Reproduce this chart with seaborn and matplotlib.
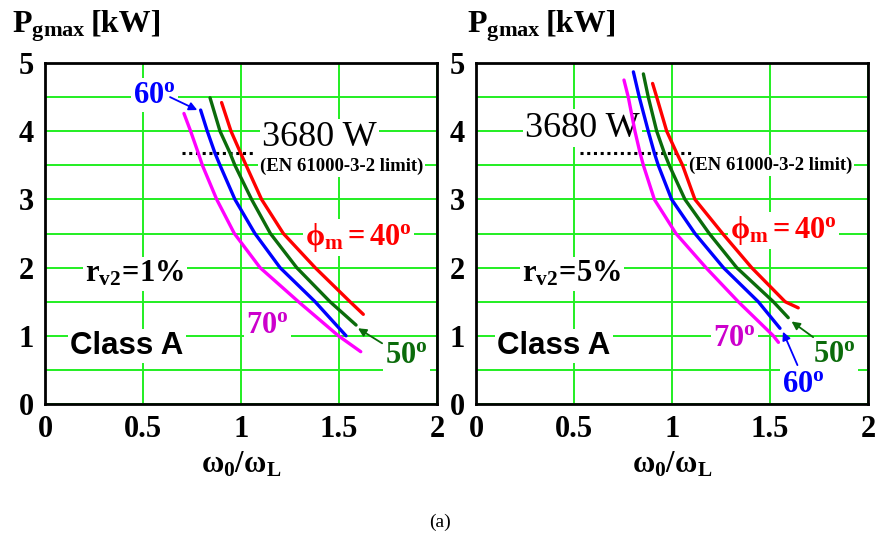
import numpy as np
import pandas as pd
import matplotlib
matplotlib.use("Agg")
import matplotlib.pyplot as plt
import seaborn as sns

# ---------------- data ----------------
phi_levels = ["40", "50", "60", "70"]

# left panel: r_v2 = 1 %
l40_x = [0.901, 0.949, 0.998, 1.026, 1.105, 1.216, 1.378, 1.556, 1.624]
l40_y = [4.42, 4.00, 3.68, 3.50, 3.00, 2.50, 2.00, 1.50, 1.315]
l50_x = [0.842, 0.893, 0.944, 0.969, 1.054, 1.150, 1.284, 1.454, 1.587]
l50_y = [4.49, 4.00, 3.68, 3.50, 3.00, 2.50, 2.00, 1.50, 1.158]
l60_x = [0.794, 0.828, 0.867, 0.893, 0.969, 1.071, 1.199, 1.378, 1.536]
l60_y = [4.31, 4.00, 3.68, 3.50, 3.00, 2.50, 2.00, 1.50, 1.00]
l70_x = [0.709, 0.743, 0.782, 0.803, 0.876, 0.966, 1.097, 1.293, 1.497, 1.611]
l70_y = [4.26, 4.00, 3.68, 3.50, 3.00, 2.50, 2.00, 1.50, 1.00, 0.767]

# right panel: r_v2 = 5 %
r40_x = [0.901, 0.922, 0.973, 1.024, 1.054, 1.117, 1.258, 1.406, 1.577, 1.644]
r40_y = [4.70, 4.50, 4.00, 3.68, 3.50, 3.00, 2.50, 2.00, 1.50, 1.41]
r50_x = [0.854, 0.879, 0.922, 0.961, 0.986, 1.066, 1.190, 1.330, 1.517, 1.593]
r50_y = [4.84, 4.50, 4.00, 3.68, 3.50, 3.00, 2.50, 2.00, 1.50, 1.266]
r60_x = [0.803, 0.833, 0.879, 0.910, 0.930, 0.998, 1.117, 1.262, 1.440, 1.551]
r60_y = [4.87, 4.50, 4.00, 3.68, 3.50, 3.00, 2.50, 2.00, 1.50, 1.11]
r70_x = [0.755, 0.777, 0.811, 0.837, 0.854, 0.910, 1.020, 1.173, 1.338, 1.517, 1.543]
r70_y = [4.75, 4.50, 4.00, 3.68, 3.50, 3.00, 2.50, 2.00, 1.50, 1.00, 0.904]

limit_kw = 3.68
x_ticks = [0, 0.5, 1, 1.5, 2]
x_tick_labels = ["0", "0.5", "1", "1.5", "2"]
y_ticks = [0, 1, 2, 3, 4, 5]
panel_labels = ["1%", "5%"]

# ---------------- style ----------------
sns.set_style("white")
plt.rcParams["font.family"] = ["Liberation Serif", "DejaVu Serif"]
plt.rcParams["mathtext.fontset"] = "custom"
plt.rcParams["mathtext.rm"] = "Liberation Serif"
plt.rcParams["mathtext.it"] = "Liberation Serif:italic"
plt.rcParams["mathtext.bf"] = "Liberation Serif:bold"
for key in ("text.color", "axes.labelcolor", "xtick.color", "ytick.color"):
    plt.rcParams[key] = "black"

palette = {"40": "#ff0000", "50": "#0b6b0b", "60": "#0000ff", "70": "#ff00ff"}
GRID = "#22ee22"


def make_df(sets):
    frames = []
    for phi, (xs, ys) in zip(phi_levels, sets):
        frames.append(pd.DataFrame({"x": xs, "y": ys, "phi": phi}))
    return pd.concat(frames, ignore_index=True)


df_left = make_df([(l40_x, l40_y), (l50_x, l50_y), (l60_x, l60_y), (l70_x, l70_y)])
df_right = make_df([(r40_x, r40_y), (r50_x, r50_y), (r60_x, r60_y), (r70_x, r70_y)])

W, H = 878, 536
fig = plt.figure(figsize=(W / 100, H / 100), dpi=100)
ax_l = fig.add_axes([45 / W, (H - 404) / H, 392 / W, 341 / H])
ax_r = fig.add_axes([476 / W, (H - 404) / H, 392 / W, 341 / H])

wb = dict(facecolor="white", edgecolor="none", pad=1.5)


def setup(ax, df):
    ax.set_xlim(0, 2)
    ax.set_ylim(0, 5)
    ax.set_xticks(x_ticks)
    ax.set_xticklabels(x_tick_labels)
    ax.set_yticks(y_ticks)
    ax.set_yticks(np.arange(0.5, 5, 1.0), minor=True)
    ax.grid(True, which="both", color=GRID, lw=1.4, zorder=0)
    ax.set_axisbelow(True)
    ax.tick_params(which="both", length=0, colors="black")
    ax.tick_params(axis="x", labelsize=22, pad=8)
    ax.tick_params(axis="y", labelsize=22, pad=8)
    for lab in ax.get_xticklabels() + ax.get_yticklabels():
        lab.set_fontweight("bold")
    for s in ax.spines.values():
        s.set_color("black")
        s.set_linewidth(2.0)
        s.set_zorder(8)
    sns.lineplot(data=df, x="x", y="y", hue="phi", palette=palette,
                 hue_order=phi_levels, sort=False, estimator=None,
                 lw=2.4, legend=False, ax=ax, zorder=7)
    ax.set_xlabel("")
    ax.set_ylabel("")


setup(ax_l, df_left)
setup(ax_r, df_right)

# x labels
for ax in (ax_l, ax_r):
    ax.text(1.0, -1.01, r"$\mathbf{\omega_0/\omega_L}$", transform=ax.transData,
            ha="center", va="baseline", fontsize=22, clip_on=False, color="black")

# y labels (top)
for x0 in (12, 467):
    fig.text(x0 / W, 1 - 32 / H, r"$\mathbf{P_{gmax}}$", fontsize=23,
             ha="left", va="baseline", color="black")
    fig.text((x0 + 79) / W, 1 - 32 / H, "[kW]", fontsize=23, fontweight="bold",
             ha="left", va="baseline", color="black")

fig.text(440 / W, 1 - 527 / H, "(a)", fontsize=14, ha="center", va="baseline",
         color="black")

deg = lambda n: r"$\mathbf{" + n + r"^{o}}$"
arrow = lambda c: dict(arrowstyle="-|>", color=c, lw=1.3, mutation_scale=12,
                       shrinkA=0, shrinkB=0)

# ---------------- left annotations ----------------
ax = ax_l
ax.plot([0.70, 1.06], [limit_kw, limit_kw], color="black", lw=2.2,
        ls=(0, (1, 1.2)), zorder=4)
ax.text(1.107, 3.78, "3680 W", fontsize=26, ha="left", va="baseline", bbox=wb, zorder=6)
ax.text(1.097, 3.42, "(EN 61000-3-2 limit)", fontsize=13.5, fontweight="bold",
        ha="left", va="baseline", bbox=wb, zorder=6)
ax.text(1.327, 2.33, r"$\mathbf{\phi_m = 40^{o}}$", color=palette["40"], fontsize=22,
        ha="left", va="baseline", bbox=wb, zorder=6)
ax.text(0.204, 1.79, r"$\mathbf{r_{v2}\!=\!" + panel_labels[0].replace("%", r"\%") + "}$",
        fontsize=22, ha="left", va="baseline", bbox=wb, zorder=6)
ax.text(0.128, 0.73, "Class A", fontsize=22.5, fontweight="bold",
        family=["Liberation Sans"], ha="left", va="baseline", bbox=wb, zorder=6)
ax.text(1.026, 1.04, deg("70"), color="#cc00cc", fontsize=22,
        ha="left", va="baseline", bbox=wb, zorder=6)
ax.text(1.735, 0.60, deg("50"), color=palette["50"], fontsize=22,
        ha="left", va="baseline", bbox=wb, zorder=6)
ax.annotate("", xy=(1.597, 1.11), xytext=(1.72, 0.89),
            arrowprops=arrow(palette["50"]), zorder=9)
ax.text(0.449, 4.42, deg("60"), color=palette["60"], fontsize=22,
        ha="left", va="baseline", bbox=wb, zorder=6)
ax.annotate("", xy=(0.777, 4.31), xytext=(0.638, 4.50),
            arrowprops=arrow(palette["60"]), zorder=9)

# ---------------- right annotations ----------------
ax = ax_r
ax.plot([0.53, 1.11], [limit_kw, limit_kw], color="black", lw=2.2,
        ls=(0, (1, 1.2)), zorder=4)
ax.text(0.25, 3.92, "3680 W", fontsize=26, ha="left", va="baseline", bbox=wb, zorder=6)
ax.text(1.087, 3.43, "(EN 61000-3-2 limit)", fontsize=13.5, fontweight="bold",
        ha="left", va="baseline", bbox=wb, zorder=6)
ax.text(1.296, 2.43, r"$\mathbf{\phi_m = 40^{o}}$", color=palette["40"], fontsize=22,
        ha="left", va="baseline", bbox=wb, zorder=6)
ax.text(0.235, 1.79, r"$\mathbf{r_{v2}\!=\!" + panel_labels[1].replace("%", r"\%") + "}$",
        fontsize=22, ha="left", va="baseline", bbox=wb, zorder=6)
ax.text(0.107, 0.73, "Class A", fontsize=22.5, fontweight="bold",
        family=["Liberation Sans"], ha="left", va="baseline", bbox=wb, zorder=6)
ax.text(1.21, 0.85, deg("70"), color="#cc00cc", fontsize=22,
        ha="left", va="baseline", bbox=wb, zorder=6)
ax.text(1.72, 0.62, deg("50"), color=palette["50"], fontsize=22,
        ha="left", va="baseline", bbox=wb, zorder=6)
ax.annotate("", xy=(1.61, 1.21), xytext=(1.72, 0.98),
            arrowprops=arrow(palette["50"]), zorder=9)
ax.text(1.56, 0.18, deg("60"), color=palette["60"], fontsize=22,
        ha="left", va="baseline", bbox=wb, zorder=6)
ax.annotate("", xy=(1.566, 1.06), xytext=(1.64, 0.57),
            arrowprops=arrow(palette["60"]), zorder=9)

fig.savefig("out.png", dpi=100)
